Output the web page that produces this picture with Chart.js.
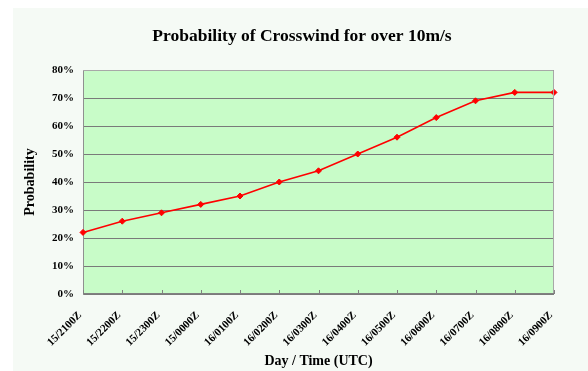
<!DOCTYPE html>
<html>
<head>
<meta charset="utf-8">
<script src="https://cdn.jsdelivr.net/npm/chart.js@4/dist/chart.umd.min.js"></script>
<style>
  html, body { margin: 0; padding: 0; background: #ffffff; }
  #wrap { position: relative; width: 588px; height: 371px; }
  canvas { display: block; }
</style>
</head>
<body>
<div id="wrap"><canvas id="c" width="588" height="371"></canvas></div>
<script>
// Forecast hours (day/time in UTC)
const timeLabels = ['15/2100Z', '15/2200Z', '15/2300Z', '15/0000Z', '16/0100Z', '16/0200Z', '16/0300Z',
                    '16/0400Z', '16/0500Z', '16/0600Z', '16/0700Z', '16/0800Z', '16/0900Z'];
// Probability of crosswind over 10 m/s, in percent
const probability = [22, 26, 29, 32, 35, 40, 44, 50, 56, 63, 69, 72, 72];
// Y axis tick values, in percent
const yTicks = [0, 10, 20, 30, 40, 50, 60, 70, 80];

const chartTitle = 'Probability of Crosswind for over 10m/s';
const serif = '"Liberation Serif", "Times New Roman", serif';

// Panel background, plot fill, border and inward x tick marks, plus the heading
const decor = {
  id: 'decor',
  beforeDraw(chart) {
    const { ctx, chartArea: a } = chart;
    ctx.save();
    ctx.fillStyle = '#f5faf5';
    ctx.fillRect(13, 8, chart.width - 13, chart.height - 8);
    ctx.fillStyle = '#c8fcc8';
    ctx.fillRect(a.left, a.top, a.right - a.left, a.bottom - a.top);
    ctx.restore();
  },
  afterDatasetsDraw(chart) {
    const { ctx, chartArea: a, scales } = chart;
    ctx.save();
    ctx.strokeStyle = '#a8a8a8';
    ctx.lineWidth = 1;
    ctx.beginPath();
    ctx.moveTo(a.left, a.top + 0.5);
    ctx.lineTo(a.right - 0.5, a.top + 0.5);
    ctx.lineTo(a.right - 0.5, a.bottom);
    ctx.stroke();
    ctx.strokeStyle = '#808080';
    ctx.beginPath();
    ctx.moveTo(a.left, a.bottom - 0.5);
    ctx.lineTo(a.right, a.bottom - 0.5);
    scales.x.ticks.forEach((t, i) => {
      const x = Math.round(scales.x.getPixelForTick(i)) + 0.5;
      ctx.moveTo(x, a.bottom);
      ctx.lineTo(x, a.bottom - 4);
    });
    ctx.stroke();
    ctx.restore();
  },
  afterDraw(chart) {
    const { ctx } = chart;
    ctx.save();
    ctx.fillStyle = '#000000';
    ctx.font = 'bold 17.5px ' + serif;
    ctx.textAlign = 'center';
    ctx.textBaseline = 'alphabetic';
    ctx.fillText(chartTitle, 302, 41);
    ctx.restore();
  }
};

new Chart(document.getElementById('c'), {
  type: 'line',
  data: {
    labels: timeLabels,
    datasets: [{
      data: probability,
      borderColor: '#ff0000',
      backgroundColor: '#ff0000',
      borderWidth: 1.6,
      pointStyle: 'rectRot',
      pointRadius: 3,
      pointBorderWidth: 1,
      tension: 0,
      clip: false
    }]
  },
  options: {
    responsive: false,
    animation: false,
    layout: { padding: { top: 70, left: 0, right: 34, bottom: 0 } },
    plugins: {
      legend: { display: false },
      tooltip: { enabled: false },
      title: { display: false }
    },
    scales: {
      x: {
        offset: false,
        grid: { display: false, drawTicks: false },
        border: { display: false },
        ticks: {
          autoSkip: false,
          maxRotation: 45,
          minRotation: 45,
          padding: 15,
          labelOffset: -3,
          color: '#000000',
          font: { family: serif, size: 11, weight: 'bold' }
        },
        title: {
          display: true,
          text: 'Day / Time (UTC)',
          color: '#000000',
          font: { family: serif, size: 14, weight: 'bold' },
          padding: { top: 0, bottom: 1 }
        },
        afterFit(scale) { scale.height = 77; }
      },
      y: {
        min: 0,
        max: 80,
        afterBuildTicks(scale) { scale.ticks = yTicks.map(v => ({ value: v })); },
        grid: { color: '#7a7a7a', lineWidth: 1, drawTicks: false },
        border: { display: true, color: '#909090', width: 1 },
        ticks: {
          padding: 9,
          color: '#000000',
          font: { family: serif, size: 11, weight: 'bold' },
          callback: v => v + '%'
        },
        title: {
          display: true,
          text: 'Probability',
          color: '#000000',
          font: { family: serif, size: 14, weight: 'bold' },
          padding: { top: 22, bottom: 0 }
        },
        afterFit(scale) { scale.width = 83; }
      }
    }
  },
  plugins: [decor]
});
</script>
</body>
</html>
